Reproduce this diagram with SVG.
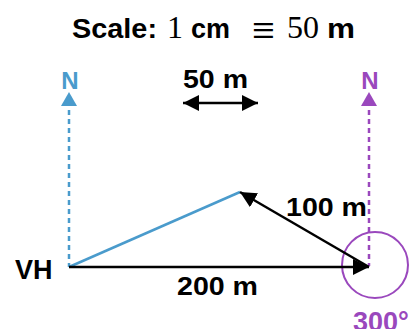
<svg xmlns="http://www.w3.org/2000/svg" width="409" height="329" viewBox="0 0 409 329">
<style>
.b{font-family:"Liberation Sans",Arial,sans-serif;font-weight:bold;fill:#000}
.s{font-family:"Liberation Serif","Times New Roman",serif;fill:#000}
.blue{fill:#4a9bcc}
.purp{fill:#9a48bd}
</style>
<defs>
<marker id="ah" viewBox="0 0 10 10" refX="10" refY="5" markerWidth="6.5" markerHeight="6.5" markerUnits="strokeWidth" orient="auto-start-reverse">
<path d="M0,0 L10,5 L0,10 z" fill="#000"/>
</marker>
</defs>
<rect width="409" height="329" fill="#fff"/>
<g id="title">
<text class="b" x="72" y="38" font-size="27" textLength="85" lengthAdjust="spacingAndGlyphs">Scale:</text>
<text class="s" x="167" y="38" font-size="32">1</text>
<text class="b" x="191" y="38" font-size="27" textLength="39" lengthAdjust="spacingAndGlyphs">cm</text>
<text class="s" x="252" y="45" font-size="44" textLength="23" lengthAdjust="spacingAndGlyphs">≡</text>
<text class="s" x="287" y="38" font-size="32">50</text>
<text class="b" x="327" y="38" font-size="27" textLength="28" lengthAdjust="spacingAndGlyphs">m</text>
</g>
<g id="scale-bar">
<text class="b" x="183" y="88" font-size="25" textLength="65" lengthAdjust="spacingAndGlyphs">50 m</text>
</g>
<g id="north-left">
<text class="b blue" x="70" y="89" font-size="24" text-anchor="middle">N</text>
<path d="M69,92 L77,106 L61,106 z" fill="#4a9bcc"/>
<line x1="69" y1="110" x2="69" y2="267" stroke="#4a9bcc" stroke-width="2.5" stroke-dasharray="5,4"/>
</g>
<g id="north-right">
<text class="b purp" x="370" y="89" font-size="24" text-anchor="middle">N</text>
<path d="M369,92 L377,106 L361,106 z" fill="#9a48bd"/>
<line x1="369" y1="110" x2="369" y2="266" stroke="#9a48bd" stroke-width="2.5" stroke-dasharray="5,4"/>
<circle cx="375" cy="265" r="33" fill="none" stroke="#9a48bd" stroke-width="2"/>
<text class="b purp" x="353" y="331" font-size="27">300°</text>
</g>
<g id="VH">
<text class="b" x="15" y="279" font-size="27">VH</text>
</g>
<g id="labels">
<text class="b" x="286" y="216" font-size="26" textLength="81" lengthAdjust="spacingAndGlyphs">100 m</text>
<text class="b" x="177" y="295" font-size="26" textLength="81" lengthAdjust="spacingAndGlyphs">200 m</text>
</g>
<g id="connectors">
<line x1="69" y1="267" x2="240" y2="192" stroke="#4a9bcc" stroke-width="2.5"/>
<line x1="69" y1="267" x2="369" y2="267" stroke="#000" stroke-width="2.5" marker-end="url(#ah)"/>
<line x1="369" y1="267" x2="240" y2="192" stroke="#000" stroke-width="2.5" marker-end="url(#ah)"/>
<line x1="183" y1="103" x2="258" y2="103" stroke="#000" stroke-width="2.5" marker-start="url(#ah)" marker-end="url(#ah)"/>
</g>
</svg>
